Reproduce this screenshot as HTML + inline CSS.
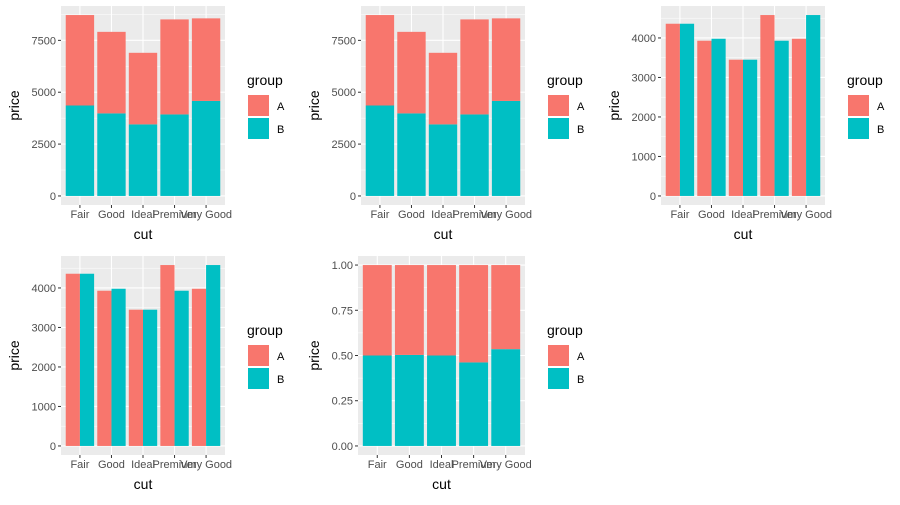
<!DOCTYPE html>
<html><head><meta charset="utf-8"><style>
body{margin:0;background:#fff;}
svg text{font-family:"Liberation Sans",sans-serif;}
</style></head><body>
<svg id="c" width="900" height="500" xmlns="http://www.w3.org/2000/svg"></svg>
<script>
const cuts = ["Fair","Good","Ideal","Premium","Very Good"];
const valuesA = [4360, 3930, 3450, 4580, 3980];
const valuesB = [4360, 3980, 3450, 3930, 4580];
const groups = ["A","B"];
const stackTicks = [0, 2500, 5000, 7500];
const dodgeTicks = [0, 1000, 2000, 3000, 4000];
const fillTicks = [0, 0.25, 0.5, 0.75, 1];
const fillTickLabels = ["0.00","0.25","0.50","0.75","1.00"];
const COLA = "#F8766D", COLB = "#00BFC4";
const NS = "http://www.w3.org/2000/svg";
const svg = document.getElementById('c');
function mk(tag, attrs, parent){const e=document.createElementNS(NS,tag);for(const k in attrs)e.setAttribute(k,attrs[k]);(parent||svg).appendChild(e);return e;}

function panel(ox, oy, left, mode, ticks, tickLabels, idx){
  const g = mk('g',{});
  
  
  const L=ox+left, R=ox+225, T=oy+6, B=oy+205;
  let maxV;
  const totals = cuts.map((c,i)=>valuesA[i]+valuesB[i]);
  if(mode==='stack') maxV=Math.max(...totals);
  else if(mode==='dodge') maxV=Math.max(...valuesA,...valuesB);
  else maxV=1;
  const pad=maxV*0.05;
  const y=v=>B-(v+pad)/(maxV+2*pad)*(B-T);
  const step=(R-L)/(cuts.length+0.2);
  const x=i=>L+step*(0.6+i);
  const bg=mk('rect',{x:L,y:T,width:R-L,height:B-T,fill:'#EBEBEB'},g);
  
  
  for(let k=0;k<ticks.length-1;k++){
    const m=(ticks[k]+ticks[k+1])/2;
    mk('line',{x1:L,x2:R,y1:y(m),y2:y(m),stroke:'#fff','stroke-width':0.5},g);
  }
  if(ticks[ticks.length-1]<maxV){const m=ticks[ticks.length-1]+(ticks[1]-ticks[0])/2; if(m<maxV+pad) mk('line',{x1:L,x2:R,y1:y(m),y2:y(m),stroke:'#fff','stroke-width':0.5},g);}
  ticks.forEach((t,k)=>{
    mk('line',{x1:L,x2:R,y1:y(t),y2:y(t),stroke:'#fff','stroke-width':1.1},g);
    mk('line',{x1:L-3,x2:L,y1:y(t),y2:y(t),stroke:'#333','stroke-width':1},g);
    const tx=mk('text',{x:L-5,y:y(t)+4,'text-anchor':'end','font-size':11,fill:'#4D4D4D'},g);
    tx.textContent=tickLabels[k];
    
    
  });
  cuts.forEach((c,i)=>{
    mk('line',{x1:x(i),x2:x(i),y1:T,y2:B,stroke:'#fff','stroke-width':1.1},g);
    mk('line',{x1:x(i),x2:x(i),y1:B,y2:B+3,stroke:'#333','stroke-width':1},g);
    const tx=mk('text',{x:x(i),y:B+13,'text-anchor':'middle','font-size':11,fill:'#4D4D4D'},g);
    tx.textContent=c;
    
    
  });
  const w=step*0.9;
  cuts.forEach((c,i)=>{
    let rects;
    if(mode==='stack') rects=[[x(i)-w/2,w,0,valuesB[i],COLB,'B'],[x(i)-w/2,w,valuesB[i],totals[i],COLA,'A']];
    else if(mode==='fill'){const p=valuesB[i]/totals[i];rects=[[x(i)-w/2,w,0,p,COLB,'B'],[x(i)-w/2,w,p,1,COLA,'A']];}
    else rects=[[x(i)-w/2,w/2,0,valuesA[i],COLA,'A'],[x(i),w/2,0,valuesB[i],COLB,'B']];
    rects.forEach(r=>{
      const e=mk('rect',{x:r[0],width:r[1],y:y(r[3]),height:y(r[2])-y(r[3]),fill:r[4]},g);
      
      
    });
  });
  const yt=mk('text',{x:0,y:0,transform:`translate(${ox+19},${(T+B)/2}) rotate(-90)`,'text-anchor':'middle','font-size':14,fill:'#000'},g);
  yt.textContent='price';
  
  
  const xt=mk('text',{x:(L+R)/2,y:oy+239,'text-anchor':'middle','font-size':14,fill:'#000'},g);
  xt.textContent='cut';
  
  
  const lg=mk('g',{},g);
  
  
  const lt=mk('text',{x:ox+247,y:oy+85,'font-size':14,fill:'#000'},lg);
  lt.textContent='group';
  groups.forEach((gr,k)=>{
    const ky=mk('rect',{x:ox+248,y:oy+95+k*23,width:21,height:21,fill:gr==='A'?COLA:COLB},lg);
    
    
    const t=mk('text',{x:ox+277,y:oy+110+k*23,'font-size':11,fill:'#000'},lg);
    t.textContent=gr;
    
    
  });
}
panel(0,0,61,'stack',stackTicks,stackTicks.map(String),1);
panel(300,0,61,'stack',stackTicks,stackTicks.map(String),2);
panel(600,0,61,'dodge',dodgeTicks,dodgeTicks.map(String),3);
panel(0,250,61,'dodge',dodgeTicks,dodgeTicks.map(String),4);
panel(300,250,58,'fill',fillTicks,fillTickLabels,5);
</script>
</body></html>
